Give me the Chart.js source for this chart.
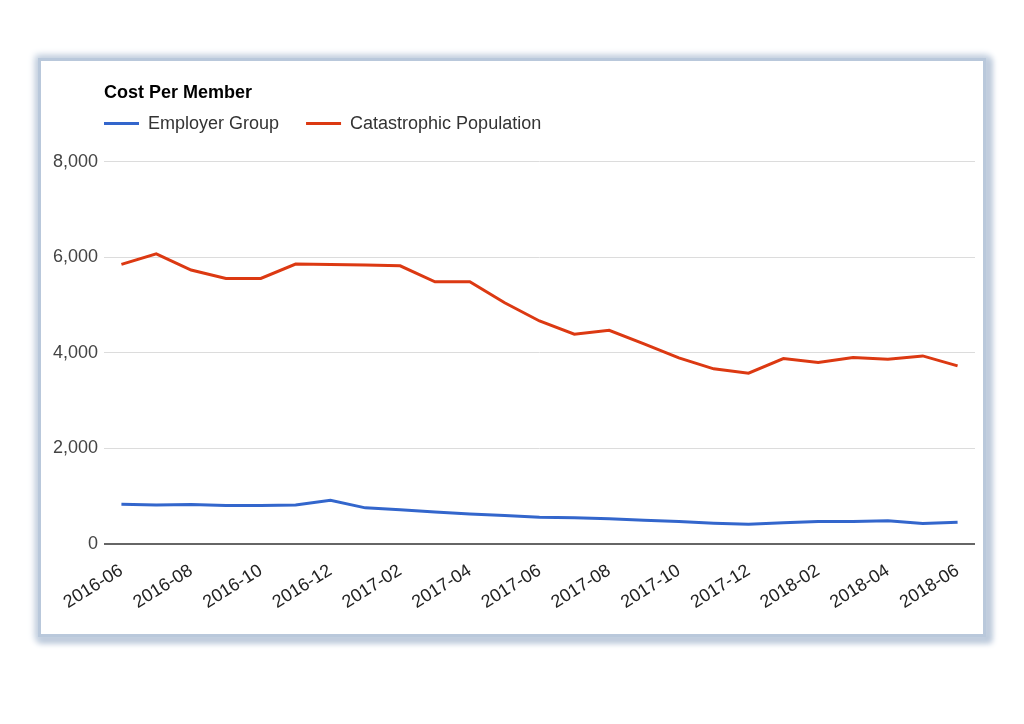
<!DOCTYPE html>
<html>
<head>
<meta charset="utf-8">
<script src="https://cdn.jsdelivr.net/npm/chart.js@4.4.1/dist/chart.umd.min.js"></script>
<style>
  body { margin: 0; background: #fff; }
  .panel {
    position: absolute; left: 41px; top: 61px; width: 942px; height: 573px; background: #fff;
    box-shadow: 0 0 0 3px #b9c8db, 0 0 7px 6px #c5d1e0, 3px 3px 6px 6px #b4c3d7;
  }
  .panel canvas { display: block; }
</style>
</head>
<body>
<div class="panel"><canvas id="costChart"></canvas></div>
<script>
const months = [
  '2016-06', '2016-07', '2016-08', '2016-09', '2016-10', '2016-11', '2016-12',
  '2017-01', '2017-02', '2017-03', '2017-04', '2017-05', '2017-06', '2017-07',
  '2017-08', '2017-09', '2017-10', '2017-11', '2017-12', '2018-01', '2018-02',
  '2018-03', '2018-04', '2018-05', '2018-06'
];
const employerGroup = [831, 818, 825, 804, 804, 818, 915, 756, 714, 672, 630, 595, 560,
  547, 526, 497, 470, 434, 413, 442, 470, 470, 484, 428, 455];
const catastrophicPopulation = [5850, 6071, 5731, 5557, 5557, 5856, 5846, 5835, 5820, 5486,
  5486, 5048, 4666, 4388, 4472, 4186, 3894, 3664, 3574, 3879, 3795, 3900, 3866, 3935, 3727];
const yMin = 0, yMax = 8000, yStep = 2000;

const font = 'Liberation Sans, Arial, sans-serif';
const axisWidth = 63;
const legendPad = 27;

// title and legend start at the plot's left edge, not the canvas edge
const alignHeader = {
  id: 'alignHeader',
  afterLayout(chart) {
    const t = chart.titleBlock;
    t.left += axisWidth; t.right += axisWidth;
    const lg = chart.legend;
    lg.left += axisWidth - legendPad; lg.right += axisWidth - legendPad;
    lg.top -= 19; lg.bottom -= 19;
  }
};

const ctx = document.getElementById('costChart').getContext('2d');
new Chart(ctx, {
  type: 'line',
  data: {
    labels: months,
    datasets: [{
      label: 'Employer Group',
      data: employerGroup,
      borderColor: '#3366cc',
      backgroundColor: '#3366cc',
      borderWidth: 3,
      pointRadius: 0,
      tension: 0
    }, {
      label: 'Catastrophic Population',
      data: catastrophicPopulation,
      borderColor: '#dc3912',
      backgroundColor: '#dc3912',
      borderWidth: 3,
      pointRadius: 0,
      tension: 0
    }]
  },
  options: {
    responsive: true,
    maintainAspectRatio: false,
    animation: false,
    layout: { padding: { left: 0, right: 8, top: 0, bottom: 0 } },
    plugins: {
      title: {
        display: true,
        text: 'Cost Per Member',
        align: 'start',
        color: '#000',
        font: { family: font, size: 18, weight: 'bold' },
        padding: { top: 21, bottom: 3 }
      },
      legend: {
        position: 'top',
        align: 'start',
        labels: {
          usePointStyle: true,
          pointStyle: 'line',
          pointStyleWidth: 35,
          padding: legendPad,
          color: '#333',
          font: { family: font, size: 18 }
        }
      },
      tooltip: { enabled: false }
    },
    scales: {
      x: {
        offset: true,
        grid: { display: false },
        border: { display: false },
        ticks: {
          autoSkip: false,
          maxRotation: 32,
          minRotation: 32,
          padding: 8,
          color: '#222',
          font: { family: font, size: 18 },
          callback: (v, i) => i % 2 === 0 ? months[i] : ''
        },
        afterFit: (scale) => { scale.height = 90; scale.paddingLeft = 0; scale.paddingRight = 0; }
      },
      y: {
        min: yMin,
        max: yMax,
        border: { display: false },
        grid: {
          drawTicks: false,
          color: (c) => c.tick.value === 0 ? '#666' : '#dcdcdc',
          lineWidth: (c) => c.tick.value === 0 ? 2 : 1
        },
        ticks: {
          stepSize: yStep,
          padding: 6,
          color: '#444',
          font: { family: font, size: 18 }
        },
        afterFit: (scale) => { scale.width = axisWidth; }
      }
    }
  },
  plugins: [alignHeader]
});
</script>
</body>
</html>
